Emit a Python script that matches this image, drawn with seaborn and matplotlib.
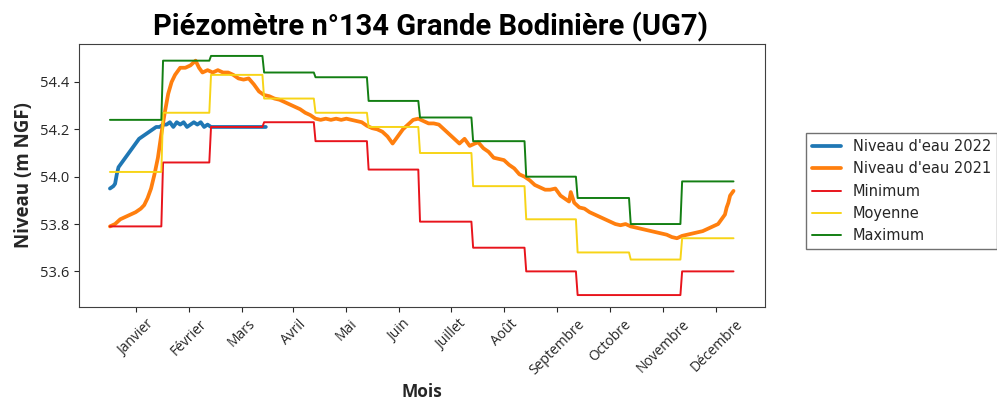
import numpy as np
import pandas as pd
import matplotlib
matplotlib.use("Agg")
import matplotlib.pyplot as plt
import seaborn as sns

# Month labels and lengths (2021, non-leap year)
months = ["Janvier", "Février", "Mars", "Avril", "Mai", "Juin", "Juillet",
          "Août", "Septembre", "Octobre", "Novembre", "Décembre"]
month_len = [31, 28, 31, 30, 31, 30, 31, 31, 30, 31, 30, 31]
tick_days = [16, 47, 78, 108, 139, 170, 200, 231, 262, 293, 324, 355]

# Monthly statistics (m NGF)
minimum = [53.79, 54.06, 54.21, 54.23, 54.15, 54.03, 53.81, 53.70, 53.60, 53.50, 53.50, 53.60]
moyenne = [54.02, 54.27, 54.43, 54.33, 54.27, 54.21, 54.10, 53.96, 53.82, 53.68, 53.65, 53.74]
maximum = [54.24, 54.49, 54.51, 54.44, 54.42, 54.32, 54.25, 54.15, 54.00, 53.91, 53.80, 53.98]

# Niveau d'eau 2021 (day of year, level)
days_2021 = [1, 4, 7, 10, 13, 16, 19, 21, 23, 25,
             27, 29, 31, 33, 35, 37, 39, 42, 45, 48,
             51, 53, 55, 58, 61, 64, 67, 70, 73, 76,
             79, 82, 85, 88, 91, 94, 97, 100, 103, 106,
             109, 112, 115, 118, 121, 124, 127, 130, 133, 136,
             139, 142, 145, 148, 151, 154, 157, 160, 163, 166,
             168, 170, 172, 175, 178, 181, 184, 187, 190, 193,
             196, 199, 202, 205, 208, 211, 214, 216, 219, 222,
             225, 228, 231, 234, 237, 240, 243, 246, 249, 252,
             255, 258, 261, 264, 267, 269, 270, 272, 275, 278,
             281, 284, 287, 290, 293, 296, 299, 302, 305, 308,
             311, 314, 317, 320, 323, 326, 329, 332, 335, 338,
             341, 344, 347, 350, 353, 356, 358, 360, 361, 362,
             363, 365]
niveau_2021 = [53.79, 53.80, 53.82, 53.83, 53.84, 53.85, 53.865, 53.88, 53.91, 53.95,
               54.01, 54.08, 54.18, 54.27, 54.35, 54.40, 54.43, 54.46, 54.46, 54.47,
               54.49, 54.46, 54.44, 54.45, 54.44, 54.45, 54.44, 54.44, 54.43, 54.415,
               54.41, 54.415, 54.39, 54.36, 54.345, 54.34, 54.33, 54.325, 54.315, 54.305,
               54.295, 54.285, 54.27, 54.26, 54.245, 54.24, 54.245, 54.24, 54.245, 54.24,
               54.245, 54.24, 54.235, 54.23, 54.215, 54.205, 54.20, 54.19, 54.17, 54.14,
               54.16, 54.18, 54.20, 54.22, 54.24, 54.245, 54.235, 54.225, 54.225, 54.22,
               54.20, 54.18, 54.16, 54.14, 54.16, 54.13, 54.14, 54.145, 54.12, 54.105,
               54.08, 54.075, 54.07, 54.05, 54.035, 54.01, 54.00, 53.985, 53.965, 53.955,
               53.945, 53.945, 53.95, 53.92, 53.905, 53.895, 53.935, 53.89, 53.87, 53.865,
               53.85, 53.84, 53.83, 53.82, 53.81, 53.80, 53.795, 53.80, 53.79, 53.785,
               53.78, 53.775, 53.77, 53.765, 53.76, 53.755, 53.745, 53.74, 53.75, 53.755,
               53.76, 53.765, 53.77, 53.78, 53.79, 53.80, 53.82, 53.84, 53.87, 53.89,
               53.92, 53.94]

# Niveau d'eau 2022 (day of year, level)
days_2022 = [1, 3, 4, 5, 6, 8, 10, 12, 14, 16,
             18, 20, 22, 24, 26, 28, 30, 32, 34, 36,
             38, 40, 42, 44, 46, 48, 50, 52, 54, 56,
             58, 60, 64, 68, 72, 76, 80, 84, 88, 92]
niveau_2022 = [53.95, 53.96, 53.97, 54.01, 54.04, 54.06, 54.08, 54.10, 54.12, 54.14,
               54.16, 54.17, 54.18, 54.19, 54.20, 54.21, 54.21, 54.22, 54.22, 54.23,
               54.21, 54.23, 54.22, 54.23, 54.21, 54.22, 54.23, 54.22, 54.23, 54.21,
               54.22, 54.21, 54.21, 54.21, 54.21, 54.21, 54.21, 54.21, 54.21, 54.21]


def build_stats():
    """Daily table of the monthly min / mean / max."""
    month_idx = np.repeat(np.arange(12), month_len)
    return pd.DataFrame({
        "jour": np.arange(1, 366),
        "Minimum": np.array(minimum)[month_idx],
        "Moyenne": np.array(moyenne)[month_idx],
        "Maximum": np.array(maximum)[month_idx],
    })


def plot_piezometre(stats):
    sns.set_style("ticks")
    plt.rcParams["font.family"] = ["Open Sans", "DejaVu Sans"]

    fig, ax = plt.subplots(figsize=(9.97, 4.11), dpi=100)
    fig.subplots_adjust(left=0.079, right=0.767, top=0.893, bottom=0.253)

    sns.lineplot(x=days_2022, y=niveau_2022, ax=ax, color="#1f77b4", lw=2.7,
                 label="Niveau d'eau 2022")
    sns.lineplot(x=days_2021, y=niveau_2021, ax=ax, color="#ff7f0e", lw=2.7,
                 label="Niveau d'eau 2021")
    sns.lineplot(data=stats, x="jour", y="Minimum", ax=ax, color="#e8141c", lw=1.4,
                 label="Minimum")
    sns.lineplot(data=stats, x="jour", y="Moyenne", ax=ax, color="#f7d417", lw=1.4,
                 label="Moyenne")
    sns.lineplot(data=stats, x="jour", y="Maximum", ax=ax, color="#137f13", lw=1.4,
                 label="Maximum")

    ax.set_xticks(tick_days)
    ax.set_xticklabels(months, rotation=45, fontsize=10)
    ax.tick_params(axis="y", labelsize=10.5)
    ax.set_yticks([53.6, 53.8, 54.0, 54.2, 54.4])

    ax.set_title("Piézomètre n°134 Grande Bodinière (UG7)", fontsize=21,
                 fontweight="bold", family="Roboto", pad=6, x=0.513, color="black")
    ax.set_xlabel("Mois", fontsize=12.5, fontweight="bold")
    ax.set_ylabel("Niveau (m NGF)", fontsize=13.5, fontweight="bold")

    for sp in ax.spines.values():
        sp.set_visible(True)
        sp.set_color("0.25")

    leg = ax.legend(loc="center left", bbox_to_anchor=(1.05, 0.44),
                    prop={"family": "DejaVu Sans", "size": 10.5},
                    frameon=True, fancybox=False, borderpad=0.4)
    leg.get_frame().set_edgecolor("0.3")

    fig.savefig("out.png", dpi=100)
    plt.close(fig)


def main():
    stats = build_stats()
    plot_piezometre(stats)


if __name__ == "__main__":
    main()
